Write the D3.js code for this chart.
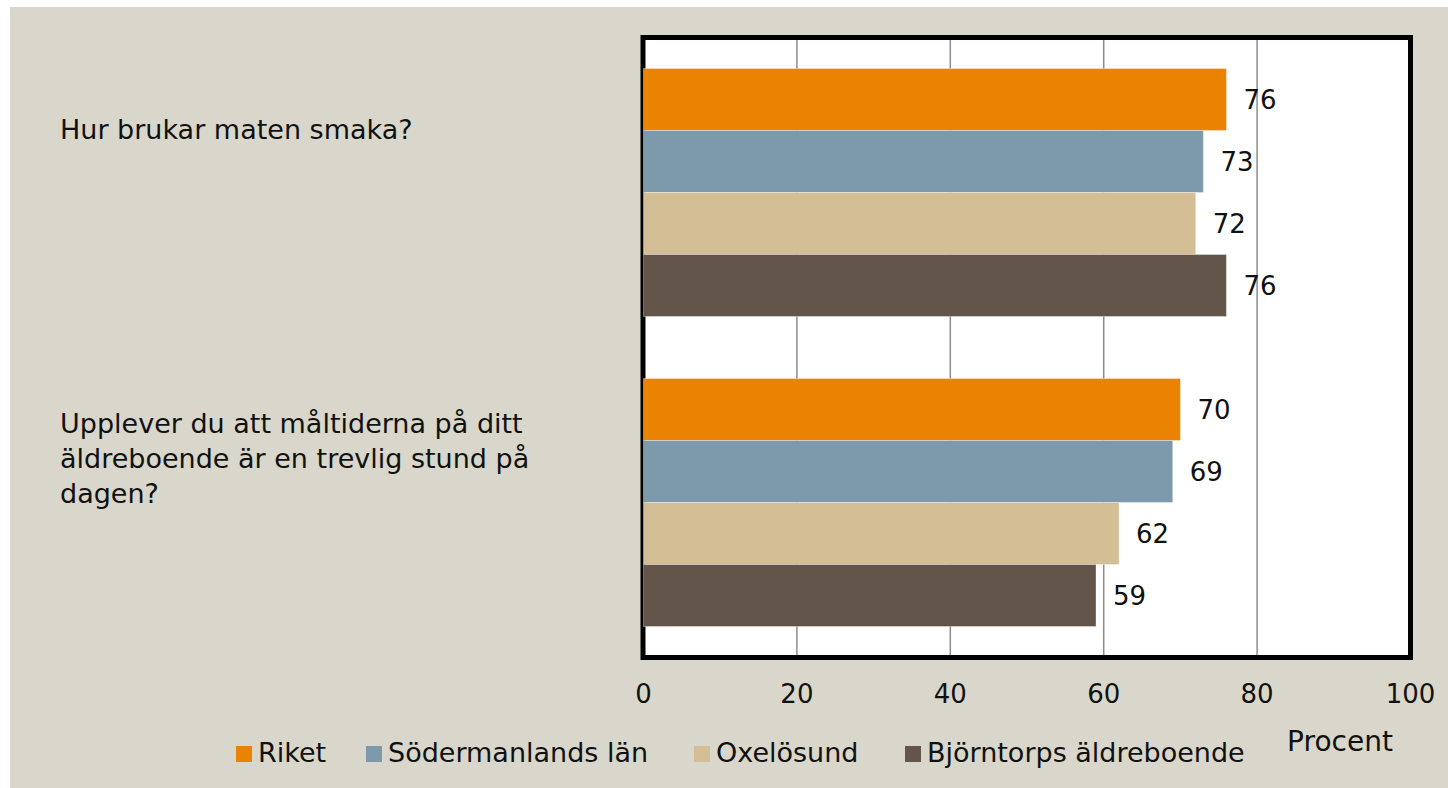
<!DOCTYPE html>
<html>
<head>
<meta charset="utf-8">
<script src="https://cdn.jsdelivr.net/npm/d3@7"></script>
<style>
  body { margin: 0; background: #fff; }
  text { font-family: "DejaVu Sans", sans-serif; fill: #111; }
</style>
</head>
<body>
<div id="chartDiv"></div>
<script>
  // data
  const questions = ["Hur brukar maten smaka?",
      "Upplever du att måltiderna på ditt äldreboende är en trevlig stund på dagen?"];
  const questionLines = [
      ["Hur brukar maten smaka?"],
      ["Upplever du att måltiderna på ditt", "äldreboende är en trevlig stund på", "dagen?"]
  ];
  const seriesNames = ["Riket", "Södermanlands län", "Oxelösund", "Björntorps äldreboende"];
  const seriesColors = ["#e98300", "#7d9aac", "#d4be96", "#63554a"];
  const riket = [76, 70];
  const sodermanland = [73, 69];
  const oxelosund = [72, 62];
  const bjorntorp = [76, 59];
  const xTicks = [0, 20, 40, 60, 80, 100];
  const axisTitle = "Procent";

  const seriesValues = [riket, sodermanland, oxelosund, bjorntorp];

  const W = 1448, H = 788;
  const plot = { left: 643.5, right: 1410.5, top: 37.5, bottom: 657.5 };

  const svg = d3.select("#chartDiv")
      .append("svg")
      .attr("width", W)
      .attr("height", H);

  // beige background, a thin white strip is left at top and left
  svg.append("rect")
      .attr("x", 10).attr("y", 7)
      .attr("width", W - 10).attr("height", H - 7)
      .attr("fill", "#d9d7cb");

  const x = d3.scaleLinear()
      .domain([0, 100])
      .range([plot.left, plot.right]);

  const y0 = d3.scaleBand()
      .domain(questions)
      .range([plot.top, plot.bottom]);

  const y1 = d3.scaleBand()
      .domain(seriesNames)
      .range([0, y0.bandwidth()])
      .paddingOuter(0.5);

  // plot area
  svg.append("rect")
      .attr("x", plot.left).attr("y", plot.top)
      .attr("width", plot.right - plot.left)
      .attr("height", plot.bottom - plot.top)
      .attr("fill", "#fff");

  // gridlines
  svg.append("g")
      .selectAll("line")
      .data(xTicks.slice(1, -1))
      .enter()
      .append("line")
      .attr("x1", d => x(d)).attr("x2", d => x(d))
      .attr("y1", plot.top).attr("y2", plot.bottom)
      .attr("stroke", "#8c8c8c")
      .attr("stroke-width", 1.5);

  // frame
  svg.append("rect")
      .attr("x", plot.left - 0.5).attr("y", plot.top)
      .attr("width", plot.right - plot.left + 0.5)
      .attr("height", plot.bottom - plot.top)
      .attr("fill", "none")
      .attr("stroke", "#000")
      .attr("stroke-width", 5);

  // bars
  const rows = [];
  questions.forEach((q, qi) => {
      seriesNames.forEach((s, si) => {
          rows.push({ q: q, s: s, color: seriesColors[si], value: seriesValues[si][qi] });
      });
  });

  svg.append("g")
      .selectAll("rect")
      .data(rows)
      .enter()
      .append("rect")
      .attr("x", x(0))
      .attr("y", d => y0(d.q) + y1(d.s))
      .attr("width", d => x(d.value) - x(0))
      .attr("height", y1.bandwidth())
      .attr("fill", d => d.color)
      .attr("stroke", "rgba(255,255,255,0.35)")
      .attr("stroke-width", 1);

  // value labels
  svg.append("g")
      .selectAll("text")
      .data(rows)
      .enter()
      .append("text")
      .attr("x", d => x(d.value) + 17)
      .attr("y", d => y0(d.q) + y1(d.s) + y1.bandwidth() / 2)
      .attr("dy", "0.36em")
      .style("font-size", "26px")
      .text(d => d.value);

  // x axis labels
  svg.append("g")
      .selectAll("text")
      .data(xTicks)
      .enter()
      .append("text")
      .attr("x", d => x(d))
      .attr("y", 703)
      .attr("text-anchor", "middle")
      .style("font-size", "26px")
      .text(d => d);

  svg.append("text")
      .attr("x", 1340)
      .attr("y", 751)
      .attr("text-anchor", "middle")
      .style("font-size", "28px")
      .text(axisTitle);

  // category labels
  const labelTop = [139, 433];
  questionLines.forEach((lines, qi) => {
      svg.append("text")
          .attr("x", 60)
          .attr("y", labelTop[qi])
          .style("font-size", "27px")
          .selectAll("tspan")
          .data(lines)
          .enter()
          .append("tspan")
          .attr("x", 60)
          .attr("dy", (d, i) => i === 0 ? 0 : 35)
          .text(d => d);
  });

  // legend
  const legendX = [236, 366, 694, 905];
  const legend = svg.append("g")
      .selectAll("g")
      .data(seriesNames)
      .enter()
      .append("g")
      .attr("transform", (d, i) => "translate(" + legendX[i] + ",746)");
  legend.append("rect")
      .attr("width", 16).attr("height", 16)
      .attr("fill", (d, i) => seriesColors[i]);
  legend.append("text")
      .attr("x", 22)
      .attr("y", 16)
      .style("font-size", "27px")
      .text(d => d);
</script>
</body>
</html>
